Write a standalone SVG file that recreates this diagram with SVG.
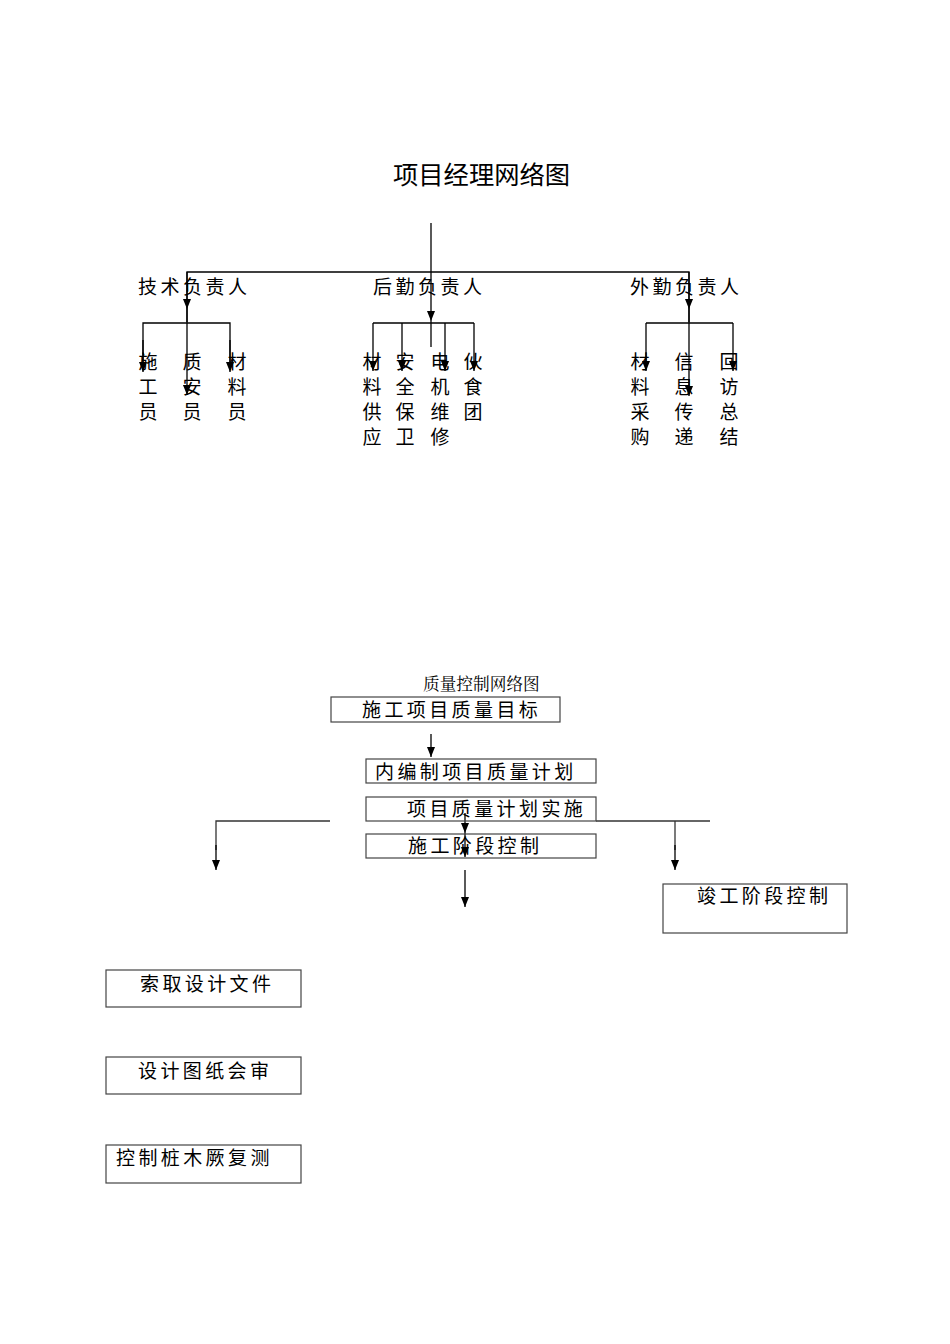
<svg xmlns="http://www.w3.org/2000/svg" width="950" height="1344" viewBox="0 0 950 1344">
<style>
  .t { font-family: "Noto Sans CJK SC", "Noto Sans", sans-serif; fill: #000; }
  .title { font-size: 25.3px; }
  .lbl { font-size: 19px; letter-spacing: 3.5px; }
  .v { font-size: 19px; text-anchor: middle; }
  .small { font-family: "Noto Serif CJK SC", "Noto Sans CJK SC", serif; font-size: 16.7px; }
  .bx { font-size: 19px; letter-spacing: 3.4px; }
  .ln { stroke: #000; stroke-width: 1.3; fill: none; }
  .ln2 { stroke: #333; stroke-width: 1.3; fill: none; }
  .box { fill: #fff; stroke: #444; stroke-width: 1.2; }
  .arr { marker-end: url(#ah); }
</style>
<defs>
  <marker id="ah" viewBox="0 0 10 8" refX="10" refY="4" markerWidth="10" markerHeight="8" markerUnits="userSpaceOnUse" orient="auto">
    <path d="M0,0 L10,4 L0,8 z" fill="#000"/>
  </marker>
</defs>

<!-- Top chart -->
<g id="title1"><text class="t title" x="393" y="184">项目经理网络图</text></g>

<g id="connectors-top">
  <line class="ln" x1="431" y1="223" x2="431" y2="272"/>
  <polyline class="ln" points="187,322 187,272 689,272 689,322"/>
  <line class="ln arr" x1="431" y1="272" x2="431" y2="321"/>
  <line class="ln" x1="431" y1="321" x2="431" y2="347"/>
  <line class="ln arr" x1="187" y1="272" x2="187" y2="309"/>
  <line class="ln arr" x1="187" y1="309" x2="187" y2="395"/>
  <line class="ln arr" x1="689" y1="272" x2="689" y2="309"/>
  <line class="ln arr" x1="689" y1="309" x2="689" y2="396"/>
  <polyline class="ln" points="143,370 143,323 230,323 230,370"/>
  <line class="ln arr" x1="143" y1="340" x2="143" y2="372"/>
  <line class="ln arr" x1="230" y1="340" x2="230" y2="372"/>
  <line class="ln" x1="373" y1="323" x2="474" y2="323"/>
  <line class="ln arr" x1="373" y1="323" x2="373" y2="371"/>
  <line class="ln arr" x1="402" y1="323" x2="402" y2="371"/>
  <line class="ln arr" x1="445" y1="323" x2="445" y2="371"/>
  <line class="ln arr" x1="474" y1="323" x2="474" y2="371"/>
  <line class="ln" x1="646" y1="323" x2="733" y2="323"/>
  <line class="ln arr" x1="646" y1="323" x2="646" y2="371"/>
  <line class="ln arr" x1="733" y1="323" x2="733" y2="371"/>
</g>

<g id="n-jishu"><text class="t lbl" x="138" y="294">技术负责人</text></g>
<g id="n-houqin"><text class="t lbl" x="373" y="294">后勤负责人</text></g>
<g id="n-waiqin"><text class="t lbl" x="630" y="294">外勤负责人</text></g>

<g id="n-shigongyuan">
  <text class="t v" x="148" y="369">施</text><text class="t v" x="148" y="394">工</text><text class="t v" x="148" y="419">员</text>
</g>
<g id="n-zhianyuan">
  <text class="t v" x="192" y="369">质</text><text class="t v" x="192" y="394">安</text><text class="t v" x="192" y="419">员</text>
</g>
<g id="n-cailiaoyuan">
  <text class="t v" x="237" y="369">材</text><text class="t v" x="237" y="394">料</text><text class="t v" x="237" y="419">员</text>
</g>
<g id="n-cailiaogongying">
  <text class="t v" x="372" y="369">材</text><text class="t v" x="372" y="394">料</text><text class="t v" x="372" y="419">供</text><text class="t v" x="372" y="444">应</text>
</g>
<g id="n-anquanbaowei">
  <text class="t v" x="405" y="369">安</text><text class="t v" x="405" y="394">全</text><text class="t v" x="405" y="419">保</text><text class="t v" x="405" y="444">卫</text>
</g>
<g id="n-dianjiweixiu">
  <text class="t v" x="440" y="369">电</text><text class="t v" x="440" y="394">机</text><text class="t v" x="440" y="419">维</text><text class="t v" x="440" y="444">修</text>
</g>
<g id="n-huoshituan">
  <text class="t v" x="473" y="369">伙</text><text class="t v" x="473" y="394">食</text><text class="t v" x="473" y="419">团</text>
</g>
<g id="n-cailiaocaigou">
  <text class="t v" x="640" y="369">材</text><text class="t v" x="640" y="394">料</text><text class="t v" x="640" y="419">采</text><text class="t v" x="640" y="444">购</text>
</g>
<g id="n-xinxichuandi">
  <text class="t v" x="684" y="369">信</text><text class="t v" x="684" y="394">息</text><text class="t v" x="684" y="419">传</text><text class="t v" x="684" y="444">递</text>
</g>
<g id="n-huifangzongjie">
  <text class="t v" x="729" y="369">回</text><text class="t v" x="729" y="394">访</text><text class="t v" x="729" y="419">总</text><text class="t v" x="729" y="444">结</text>
</g>

<!-- Bottom chart -->
<g id="title2"><text class="t small" x="423" y="690">质量控制网络图</text></g>

<g id="connectors-bottom">
  <line class="ln arr" x1="431" y1="734" x2="431" y2="757"/>
  <polyline class="ln2" points="330,821 216,821 216,850"/>
  <line class="ln arr" x1="216" y1="845" x2="216" y2="870"/>
  <polyline class="ln2" points="596,821 710,821"/>
  <line class="ln2" x1="675" y1="821" x2="675" y2="850"/>
  <line class="ln arr" x1="675" y1="845" x2="675" y2="870"/>
  <line class="ln arr" x1="465" y1="813" x2="465" y2="833"/>
  <line class="ln arr" x1="465" y1="833" x2="465" y2="857"/>
  <line class="ln arr" x1="465" y1="870" x2="465" y2="907"/>
</g>

<g id="n-mubiao">
  <rect class="box" x="331" y="697" width="229" height="25"/>
  <text class="t bx" x="362" y="717">施工项目质量目标</text>
</g>
<g id="n-bianzhi">
  <rect class="box" x="366" y="759" width="230" height="24"/>
  <text class="t bx" x="375" y="779">内编制项目质量计划</text>
</g>
<g id="n-shishi">
  <rect class="box" x="366" y="797" width="230" height="24" style="fill:none"/>
  <text class="t bx" x="407" y="816">项目质量计划实施</text>
</g>
<g id="n-shigongjieduan">
  <rect class="box" x="366" y="834" width="230" height="24" style="fill:none"/>
  <text class="t bx" x="408" y="853">施工阶段控制</text>
</g>
<g id="n-jungong">
  <rect class="box" x="663" y="884" width="184" height="49"/>
  <text class="t bx" x="697" y="903">竣工阶段控制</text>
</g>
<g id="n-suoqu">
  <rect class="box" x="106" y="970" width="195" height="37"/>
  <text class="t bx" x="140" y="991">索取设计文件</text>
</g>
<g id="n-huishen">
  <rect class="box" x="106" y="1057" width="195" height="37"/>
  <text class="t bx" x="138" y="1078">设计图纸会审</text>
</g>
<g id="n-fuce">
  <rect class="box" x="106" y="1145" width="195" height="38"/>
  <text class="t bx" x="116" y="1165">控制桩木厥复测</text>
</g>
</svg>
